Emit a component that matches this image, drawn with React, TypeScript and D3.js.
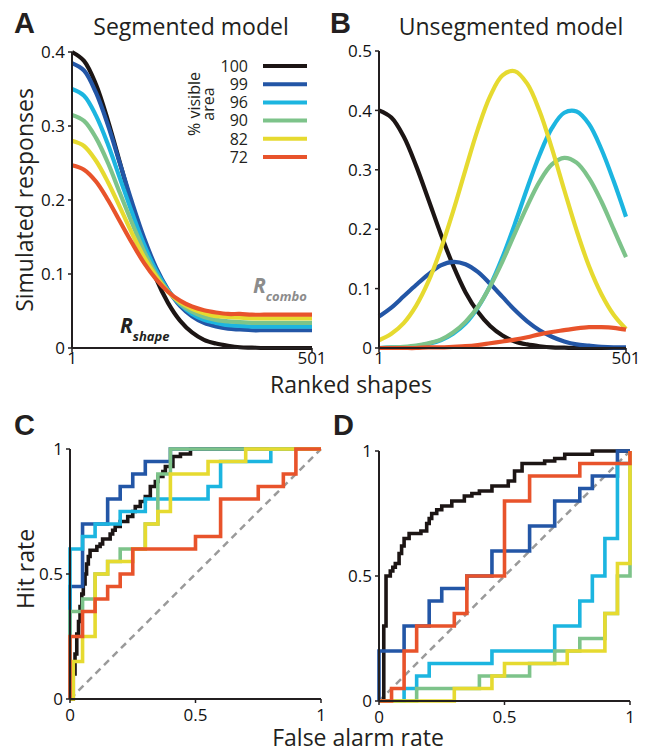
import React from "react";
import * as d3 from "d3";

// ranks sampled along the x axis of panels A and B
const ranks = [1, 26, 51, 76, 101, 126, 151, 176, 201, 226, 251, 276, 301, 326, 351, 376, 401, 426, 451, 476, 501];

// % visible area legend
const visibleLabels = ["100", "99", "96", "90", "82", "72"];
const lineColors = ["#1c1514", "#2356a6", "#1cb5e0", "#7dc38a", "#e6da30", "#e8532b"];

// A: segmented model responses
const seg100 = [0.4, 0.388, 0.356, 0.307, 0.25, 0.192, 0.139, 0.094, 0.061, 0.037, 0.021, 0.011, 0.006, 0.003, 0.001, 0.0005, 0, 0, 0, 0, 0];
const seg99 = [0.385, 0.375, 0.345, 0.301, 0.249, 0.197, 0.149, 0.109, 0.079, 0.057, 0.043, 0.034, 0.029, 0.026, 0.025, 0.024, 0.024, 0.024, 0.024, 0.024, 0.024];
const seg96 = [0.35, 0.341, 0.314, 0.275, 0.229, 0.183, 0.14, 0.105, 0.078, 0.059, 0.046, 0.038, 0.034, 0.031, 0.03, 0.029, 0.029, 0.029, 0.029, 0.029, 0.029];
const seg90 = [0.315, 0.307, 0.284, 0.25, 0.209, 0.169, 0.131, 0.1, 0.077, 0.06, 0.049, 0.042, 0.038, 0.036, 0.035, 0.034, 0.034, 0.034, 0.034, 0.034, 0.034];
const seg82 = [0.28, 0.273, 0.253, 0.224, 0.19, 0.155, 0.123, 0.097, 0.076, 0.062, 0.053, 0.047, 0.043, 0.042, 0.041, 0.04, 0.04, 0.04, 0.04, 0.04, 0.04];
const seg72 = [0.247, 0.241, 0.225, 0.2, 0.171, 0.142, 0.115, 0.093, 0.076, 0.064, 0.056, 0.051, 0.048, 0.046, 0.046, 0.045, 0.045, 0.045, 0.045, 0.045, 0.045];

// B: unsegmented model responses
const unseg100 = [0.4, 0.388, 0.356, 0.307, 0.25, 0.192, 0.139, 0.094, 0.061, 0.037, 0.021, 0.011, 0.006, 0.003, 0.001, 0.0005, 0, 0, 0, 0, 0];
const unseg99 = [0.053, 0.068, 0.087, 0.106, 0.124, 0.139, 0.145, 0.141, 0.128, 0.108, 0.086, 0.064, 0.045, 0.03, 0.019, 0.011, 0.006, 0.004, 0.002, 0.001, 0.001];
const unseg96 = [0, 0.001, 0.001, 0.003, 0.007, 0.013, 0.024, 0.041, 0.068, 0.105, 0.153, 0.209, 0.269, 0.325, 0.37, 0.396, 0.398, 0.377, 0.335, 0.281, 0.221];
const unseg90 = [0, 0.001, 0.002, 0.004, 0.008, 0.014, 0.026, 0.044, 0.069, 0.104, 0.146, 0.193, 0.239, 0.28, 0.309, 0.32, 0.312, 0.286, 0.247, 0.2, 0.153];
const unseg82 = [0.013, 0.024, 0.042, 0.071, 0.112, 0.166, 0.23, 0.3, 0.368, 0.424, 0.459, 0.466, 0.445, 0.399, 0.336, 0.266, 0.198, 0.138, 0.091, 0.056, 0.032];
const unseg72 = [0, 0, 0, 0, 0.001, 0.001, 0.002, 0.003, 0.005, 0.008, 0.011, 0.014, 0.018, 0.023, 0.027, 0.03, 0.033, 0.035, 0.035, 0.034, 0.031];

// C: ROC, segmented model  [false alarm rate, hit rate]
const rocSeg100 = [[0, 0], [0.013, 0.1], [0.02, 0.18], [0.027, 0.26], [0.034, 0.31], [0.04, 0.37], [0.047, 0.42], [0.053, 0.46], [0.06, 0.5], [0.066, 0.54], [0.073, 0.57], [0.08, 0.595], [0.107, 0.61], [0.12, 0.62], [0.13, 0.64], [0.16, 0.66], [0.17, 0.675], [0.18, 0.69], [0.2, 0.71], [0.23, 0.73], [0.25, 0.75], [0.26, 0.77], [0.28, 0.79], [0.3, 0.81], [0.32, 0.85], [0.34, 0.87], [0.35, 0.89], [0.37, 0.91], [0.38, 0.93], [0.41, 0.97], [0.44, 0.98], [0.48, 1], [1, 1]];
const rocSeg99 = [[0, 0], [0, 0.45], [0.05, 0.7], [0.15, 0.8], [0.2, 0.85], [0.25, 0.9], [0.3, 0.95], [0.4, 1], [1, 1]];
const rocSeg96 = [[0, 0], [0, 0.6], [0.05, 0.65], [0.1, 0.7], [0.2, 0.75], [0.3, 0.8], [0.55, 0.85], [0.6, 0.95], [0.8, 1], [1, 1]];
const rocSeg90 = [[0, 0], [0, 0.35], [0.05, 0.4], [0.1, 0.5], [0.15, 0.55], [0.2, 0.6], [0.3, 0.7], [0.35, 0.9], [0.4, 1], [1, 1]];
const rocSeg82 = [[0, 0], [0.013, 0.15], [0.05, 0.25], [0.1, 0.5], [0.15, 0.55], [0.25, 0.6], [0.3, 0.7], [0.35, 0.75], [0.4, 0.9], [0.55, 0.95], [0.7, 1], [1, 1]];
const rocSeg72 = [[0, 0], [0, 0.25], [0.05, 0.35], [0.1, 0.4], [0.15, 0.45], [0.2, 0.5], [0.25, 0.6], [0.5, 0.65], [0.6, 0.8], [0.75, 0.85], [0.85, 0.9], [0.9, 1], [1, 1]];

// D: ROC, unsegmented model
const rocUnseg100 = [[0, 0], [0.019, 0.3], [0.028, 0.5], [0.045, 0.52], [0.055, 0.535], [0.065, 0.55], [0.08, 0.59], [0.09, 0.62], [0.1, 0.65], [0.12, 0.67], [0.167, 0.68], [0.19, 0.71], [0.2, 0.73], [0.21, 0.75], [0.23, 0.765], [0.25, 0.78], [0.29, 0.8], [0.34, 0.82], [0.37, 0.83], [0.4, 0.84], [0.45, 0.86], [0.515, 0.88], [0.54, 0.92], [0.57, 0.95], [0.66, 0.96], [0.7, 0.97], [0.74, 0.987], [0.85, 1], [1, 1]];
const rocUnseg99 = [[0, 0], [0, 0.2], [0.1, 0.3], [0.2, 0.4], [0.25, 0.45], [0.35, 0.5], [0.45, 0.6], [0.6, 0.7], [0.7, 0.8], [0.8, 0.85], [0.85, 0.9], [0.95, 1], [1, 1]];
const rocUnseg96 = [[0, 0], [0.1, 0.05], [0.15, 0.1], [0.2, 0.15], [0.45, 0.2], [0.7, 0.3], [0.8, 0.4], [0.85, 0.5], [0.9, 0.65], [0.95, 0.95], [1, 1]];
const rocUnseg90 = [[0, 0], [0.15, 0.05], [0.4, 0.1], [0.6, 0.15], [0.7, 0.2], [0.8, 0.25], [0.9, 0.35], [0.95, 0.5], [1, 1]];
const rocUnseg82 = [[0, 0], [0.3, 0.05], [0.45, 0.1], [0.5, 0.15], [0.75, 0.2], [0.9, 0.35], [0.95, 0.55], [1, 1]];
const rocUnseg72 = [[0, 0], [0.05, 0.05], [0.1, 0.2], [0.15, 0.3], [0.3, 0.35], [0.35, 0.5], [0.5, 0.8], [0.6, 0.9], [0.8, 0.95], [1, 1]];

const yTicksA = [0, 0.1, 0.2, 0.3, 0.4];
const yTicksB = [0, 0.1, 0.2, 0.3, 0.4, 0.5];
const rocTicks = [0, 0.5, 1];
const rankTicks = [1, 501];

const FONT = "'Open Sans', 'Noto Sans', sans-serif";
const AXIS = "#231f20";

const xA = d3.scaleLinear().domain([1, 501]).range([72, 312]);
const yA = d3.scaleLinear().domain([0, 0.4]).range([348, 52]);
const xB = d3.scaleLinear().domain([1, 501]).range([379, 626]);
const yB = d3.scaleLinear().domain([0, 0.5]).range([348, 51]);
const xC = d3.scaleLinear().domain([0, 1]).range([70, 321]);
const yC = d3.scaleLinear().domain([0, 1]).range([699, 449]);
const xD = d3.scaleLinear().domain([0, 1]).range([379, 630]);
const yD = d3.scaleLinear().domain([0, 1]).range([701, 451]);

const fmt = (v: number) => (v === 0 ? "0" : v === 1 ? "1" : String(v));

function Axes({ x, y, xTicks, yTicks, labelGap }: any) {
  const [x0, x1] = x.range();
  const [y0, y1] = y.range();
  return (
    <g>
      <line x1={x0} x2={x1} y1={y0} y2={y0} stroke={AXIS} strokeWidth={2} />
      <line x1={x0} x2={x0} y1={y0} y2={y1} stroke={AXIS} strokeWidth={2} />
      {yTicks.map((t: number) => (
        <g key={"y" + t}>
          <line x1={x0 - 4} x2={x0} y1={y(t)} y2={y(t)} stroke={AXIS} strokeWidth={1.5} />
          <text x={x0 - 7} y={y(t)} dy="0.36em" textAnchor="end" fontSize={17} fontFamily={FONT} fill="#111">
            {fmt(t)}
          </text>
        </g>
      ))}
      {xTicks.map((t: number) => (
        <g key={"x" + t}>
          <line x1={x(t)} x2={x(t)} y1={y0} y2={y0 + 4} stroke={AXIS} strokeWidth={1.5} />
          <text x={x(t)} y={y0 + labelGap} textAnchor="middle" fontSize={17} fontFamily={FONT} fill="#111">
            {fmt(t)}
          </text>
        </g>
      ))}
    </g>
  );
}

function Curves({ x, y, series }: any) {
  const line = d3
    .line<number>()
    .x((_, i) => x(ranks[i]))
    .y((d) => y(d))
    .curve(d3.curveCatmullRom.alpha(0.5));
  return (
    <g>
      {series.map((s: number[], i: number) => (
        <path key={i} d={line(s) || ""} fill="none" stroke={lineColors[i]} strokeWidth={4.2} strokeLinejoin="round" />
      ))}
    </g>
  );
}

function Roc({ x, y, series }: any) {
  const line = d3
    .line<number[]>()
    .x((d) => x(d[0]))
    .y((d) => y(d[1]))
    .curve(d3.curveStepAfter);
  return (
    <g>
      <line x1={x(0)} y1={y(0)} x2={x(1)} y2={y(1)} stroke="#9a9a9a" strokeWidth={2.5} strokeDasharray="7 5" />
      {series.map((s: number[][], i: number) => (
        <path key={i} d={line(s) || ""} fill="none" stroke={lineColors[i]} strokeWidth={3.6} strokeLinejoin="miter" />
      ))}
    </g>
  );
}

export default function App() {
  const legendY = d3.scalePoint<string>().domain(visibleLabels).range([66, 157]);
  return (
    <svg width={650} height={752} style={{ position: "absolute", left: 0, top: 0, background: "#fff" }}>
      {/* panel letters and titles */}
      <g fontFamily="'Liberation Sans', Arial, sans-serif" fontWeight="bold" fontSize={29} fill="#231f20">
        <text x={14} y={33}>A</text>
        <text x={330} y={33}>B</text>
        <text x={14} y={435}>C</text>
        <text x={333} y={435}>D</text>
      </g>
      <text x={191} y={35} textAnchor="middle" fontSize={23} fontFamily={FONT} fill="#231f20">Segmented model</text>
      <text x={511} y={35} textAnchor="middle" fontSize={23} fontFamily={FONT} fill="#231f20">Unsegmented model</text>

      {/* A */}
      <Curves x={xA} y={yA} series={[seg100, seg99, seg96, seg90, seg82, seg72]} />
      <Axes x={xA} y={yA} xTicks={rankTicks} yTicks={yTicksA} labelGap={16} />
      <text x={253} y={293} fontFamily={FONT} fontWeight="bold" fontStyle="italic" fill="#8c8c8c" fontSize={21}>
        R<tspan fontSize={13} dy={8}>combo</tspan>
      </text>
      <text x={120} y={333} fontFamily={FONT} fontWeight="bold" fontStyle="italic" fill="#231f20" fontSize={21}>
        R<tspan fontSize={13} dy={8}>shape</tspan>
      </text>

      {/* legend */}
      <text transform="translate(200,104) rotate(-90)" textAnchor="middle" fontSize={16} fontFamily={FONT} fill="#231f20">
        % visible
      </text>
      <text transform="translate(214,104) rotate(-90)" textAnchor="middle" fontSize={16} fontFamily={FONT} fill="#231f20">
        area
      </text>
      {visibleLabels.map((l, i) => (
        <g key={l}>
          <text x={248} y={legendY(l)} dy="0.36em" textAnchor="end" fontSize={16} fontFamily={FONT} fill="#231f20">
            {l}
          </text>
          <line x1={263} x2={307} y1={legendY(l)} y2={legendY(l)} stroke={lineColors[i]} strokeWidth={4} />
        </g>
      ))}

      {/* B */}
      <Curves x={xB} y={yB} series={[unseg100, unseg99, unseg96, unseg90, unseg82, unseg72]} />
      <Axes x={xB} y={yB} xTicks={rankTicks} yTicks={yTicksB} labelGap={16} />

      {/* axis titles */}
      <text transform="translate(33,200) rotate(-90)" textAnchor="middle" fontSize={23} fontFamily={FONT} fill="#231f20">
        Simulated responses
      </text>
      <text x={351} y={393} textAnchor="middle" fontSize={23} fontFamily={FONT} fill="#231f20">Ranked shapes</text>

      {/* C */}
      <Roc x={xC} y={yC} series={[rocSeg100, rocSeg99, rocSeg96, rocSeg90, rocSeg82, rocSeg72]} />
      <Axes x={xC} y={yC} xTicks={rocTicks} yTicks={rocTicks} labelGap={22} />

      {/* D */}
      <Roc x={xD} y={yD} series={[rocUnseg100, rocUnseg99, rocUnseg96, rocUnseg90, rocUnseg82, rocUnseg72]} />
      <Axes x={xD} y={yD} xTicks={rocTicks} yTicks={rocTicks} labelGap={22} />

      <text transform="translate(34,569) rotate(-90)" textAnchor="middle" fontSize={23} fontFamily={FONT} fill="#231f20">
        Hit rate
      </text>
      <text x={358} y={746} textAnchor="middle" fontSize={23} fontFamily={FONT} fill="#231f20">False alarm rate</text>
    </svg>
  );
}
